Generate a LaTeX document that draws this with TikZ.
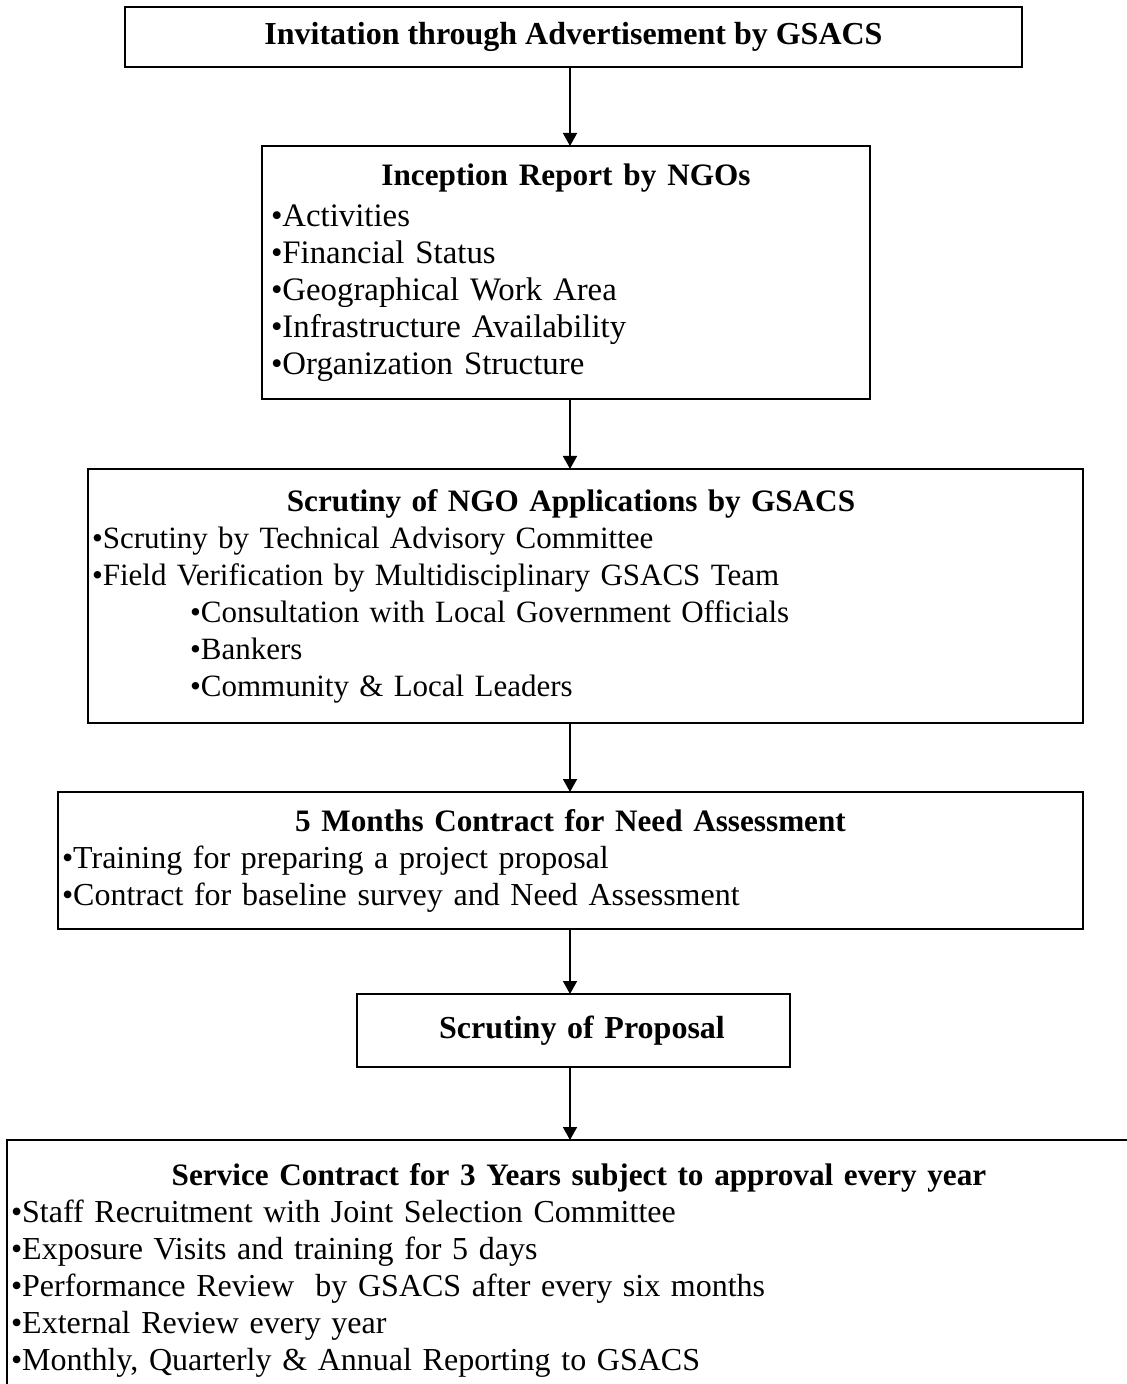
\documentclass[tikz,border=0pt]{standalone}
\usepackage{fontspec}
\setmainfont{Liberation Serif}
\usetikzlibrary{positioning, arrows.meta}
\tikzset{
stepnode/.style={draw, rectangle, line width=1pt, outer sep=0pt, align=left, inner xsep=2pt, inner ysep=0pt, font=\fontsize{16}{18.5}\selectfont}, % every box of the chart
flow/.style={-{Triangle[length=6.5pt,width=7pt]}, line width=0.8pt}, % the down arrows
}
\newcommand{\boxtitle}[1]{{\centering\bfseries\fontsize{15.6}{18.5}\selectfont #1\par}}
\newcommand{\padbelow}[1]{\par\vspace*{#1}}

\begin{document}
\begin{tikzpicture}
        \path[use as bounding box, clip] (0,0) rectangle (563.5pt,-692pt);
        \coordinate (axis) at (285pt,0);
        \node[stepnode, align=center, minimum width=448.5pt, minimum height=30pt, anchor=north] (invite) at (286.75pt,-3.5pt) {\bfseries Invitation through Advertisement by GSACS};
        \node[stepnode, text width=295pt, inner xsep=4.5pt, minimum height=126.5pt, font=\fontsize{16.4}{18.5}\selectfont, below=39.5pt of invite, xshift=-3.75pt] (inception) {\boxtitle{Inception Report by NGOs}\vspace*{2pt}
        •Activities\\
        •Financial Status\\
        •Geographical Work Area\\
        •Infrastructure Availability\\
        •Organization Structure\padbelow{9pt}};
        \node[stepnode, text width=493.5pt, minimum height=127pt, font=\fontsize{15.5}{18.5}\selectfont, below=35pt of inception, xshift=9.75pt] (scrutiny) {\boxtitle{Scrutiny of NGO Applications by GSACS\hspace*{14.5pt}}
        •Scrutiny by Technical Advisory Committee\\
        •Field Verification by Multidisciplinary GSACS Team\\
        \hspace*{49pt}•Consultation with Local Government Officials\\
        \hspace*{49pt}•Bankers\\
        \hspace*{49pt}•Community \& Local Leaders\padbelow{5pt}};
        \node[stepnode, text width=508.5pt, minimum height=68.5pt, below=34.5pt of scrutiny, xshift=-7.5pt] (needs) {\boxtitle{5 Months Contract for Need Assessment}
        •Training for preparing a project proposal\\
        •Contract for baseline survey and Need Assessment\padbelow{4pt}};
        \node[stepnode, align=center, text width=212.5pt, minimum height=36.5pt, below=32.5pt of needs, xshift=1.5pt] (proposal) {\hspace*{8.5pt}\bfseries Scrutiny of Proposal\padbelow{9pt}};
        \node[stepnode, text width=568pt, minimum height=130pt, below=36.5pt of proposal, xshift=2.75pt] (service) {\boxtitle{Service Contract for 3 Years subject to approval every year}
        •Staff Recruitment with Joint Selection Committee\\
        •Exposure Visits and training for 5 days\\
        •Performance Review~ by GSACS after every six months\\
        •External Review every year\\
        •Monthly, Quarterly \& Annual Reporting to GSACS\padbelow{17pt}};
        \path[flow]
        (invite.south -| axis) edge (inception.north -| axis)
        (inception.south -| axis) edge (scrutiny.north -| axis)
        (scrutiny.south -| axis) edge (needs.north -| axis)
        (needs.south -| axis) edge (proposal.north -| axis)
        (proposal.south -| axis) edge (service.north -| axis)
        ;\end{tikzpicture}
\end{document}
